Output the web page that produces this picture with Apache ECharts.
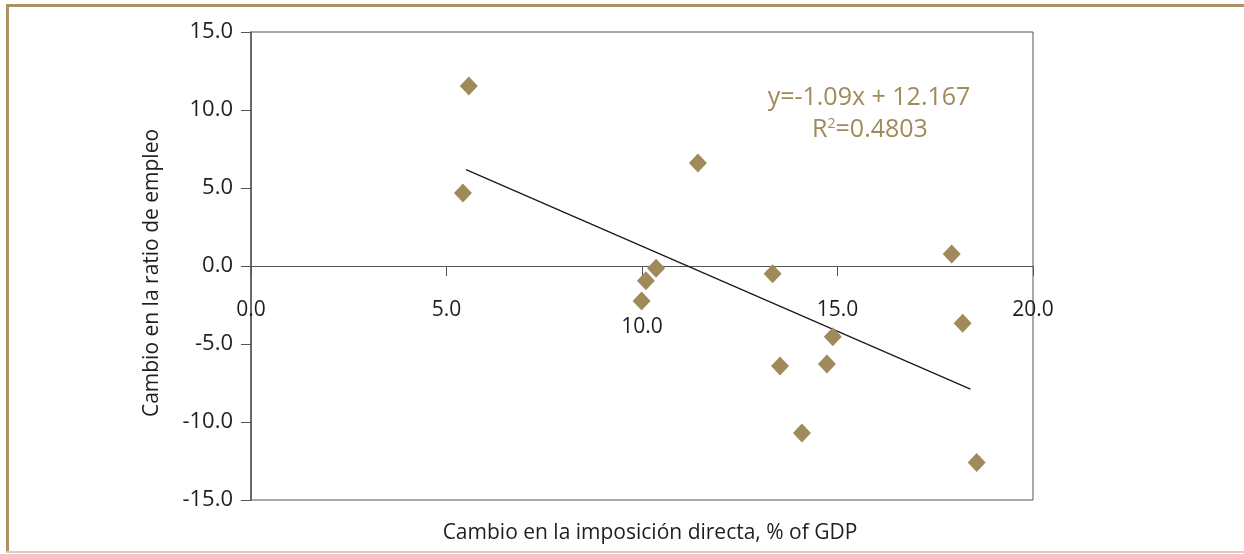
<!DOCTYPE html>
<html>
<head>
<meta charset="utf-8">
<script src="https://cdn.jsdelivr.net/npm/echarts@6/dist/echarts.min.js"></script>
<style>
  html, body { margin: 0; padding: 0; background: #ffffff; }
  #chart { width: 1244px; height: 554px; }
</style>
</head>
<body>
<div id="chart"></div>
<script>
// Change in direct taxation (x, % of GDP) vs change in employment ratio (y)
const xValues = [5.57, 5.42, 11.43, 10.36, 10.10, 9.99, 13.34, 17.92, 18.20, 14.88, 13.53, 14.73, 14.09, 18.56];
const yValues = [11.54, 4.68, 6.60, -0.15, -0.94, -2.24, -0.49, 0.77, -3.67, -4.53, -6.41, -6.28, -10.71, -12.60];

// Linear trend: y = slope * x + intercept
const trendSlope = -1.09;
const trendIntercept = 12.167;
const trendR2 = 0.4803;
const trendRange = [5.5, 18.4];

const xTicks = [0, 5, 10, 15, 20];
const yTicks = [-15, -10, -5, 0, 5, 10, 15];

const gold = '#a08a5a';
const ink = '#1e1e1e';
const font = '"Open Sans", "Liberation Sans", sans-serif';

const points = xValues.map((x, i) => [x, yValues[i]]);
const trendPoints = trendRange.map(x => [x, trendSlope * x + trendIntercept]);

const chart = echarts.init(document.getElementById('chart'), null, { renderer: 'canvas' });

chart.setOption({
  animation: false,
  backgroundColor: '#ffffff',
  grid: {
    left: 251, right: 211, top: 32, bottom: 54,
    containLabel: false,
    outerBoundsMode: 'none',
    show: true, borderColor: '#555555', borderWidth: 1
  },
  xAxis: {
    type: 'value',
    min: xTicks[0], max: xTicks[xTicks.length - 1], interval: 5,
    name: 'Cambio en la imposición directa, % of GDP',
    nameLocation: 'middle', nameGap: 23,
    nameTextStyle: { fontFamily: font, fontSize: 21, color: ink, padding: [0, 0, 0, 16] },
    axisLine: { onZero: true, lineStyle: { color: '#555555', width: 1 } },
    axisTick: { show: true, length: 10, lineStyle: { color: '#555555' } },
    splitLine: { show: false },
    axisLabel: {
      margin: -200,
      fontFamily: font, fontSize: 21, color: ink,
      formatter: v => (v === 10 ? '{lo|' + v.toFixed(1) + '}' : '{n|' + v.toFixed(1) + '}'),
      rich: {
        n: { fontFamily: font, fontSize: 21, color: ink },
        lo: { fontFamily: font, fontSize: 21, color: ink, padding: [17, 0, 0, 0] }
      }
    }
  },
  yAxis: {
    type: 'value',
    min: yTicks[0], max: yTicks[yTicks.length - 1], interval: 5,
    name: 'Cambio en la ratio de empleo',
    nameLocation: 'middle', nameGap: 88,
    nameTextStyle: { fontFamily: font, fontSize: 21, color: ink, padding: [0, 14, 0, 0] },
    axisLine: { show: true, onZero: false, lineStyle: { color: '#555555', width: 1.5 } },
    axisTick: { show: true, length: 10, lineStyle: { color: '#555555' } },
    splitLine: { show: false },
    axisLabel: {
      margin: 18,
      fontFamily: font, fontSize: 22, color: ink,
      formatter: v => v.toFixed(1)
    }
  },
  series: [
    {
      type: 'scatter',
      data: points,
      symbol: 'diamond',
      symbolSize: [18, 19],
      itemStyle: { color: gold, opacity: 1 },
      z: 3
    },
    {
      type: 'line',
      data: trendPoints,
      symbol: 'none',
      lineStyle: { color: '#1a1a1a', width: 1.3 },
      z: 2
    }
  ],
  graphic: [
    // outer frame
    { type: 'rect', shape: { x: 6, y: 4, width: 1238, height: 3 }, style: { fill: '#a89463' } },
    { type: 'rect', shape: { x: 6, y: 4, width: 3, height: 549 }, style: { fill: '#a89463' } },
    { type: 'rect', shape: { x: 6, y: 551, width: 1238, height: 2 }, style: { fill: '#d9cfb8' } },
    // trendline equation
    {
      type: 'text',
      style: {
        text: 'y=-' + Math.abs(trendSlope).toFixed(2) + 'x + ' + trendIntercept.toFixed(3),
        x: 869, y: 98, align: 'center', verticalAlign: 'middle',
        font: '25px ' + font, fill: gold
      }
    },
    {
      type: 'text',
      style: {
        text: 'R{sup|2}=' + trendR2.toFixed(4),
        x: 870, y: 130, align: 'center', verticalAlign: 'middle',
        font: '25px ' + font, fill: gold,
        rich: { sup: { fontSize: 14, fill: gold, fontFamily: font, verticalAlign: 'top', padding: [0, 0, 10, 0] } }
      }
    }
  ]
});
</script>
</body>
</html>
